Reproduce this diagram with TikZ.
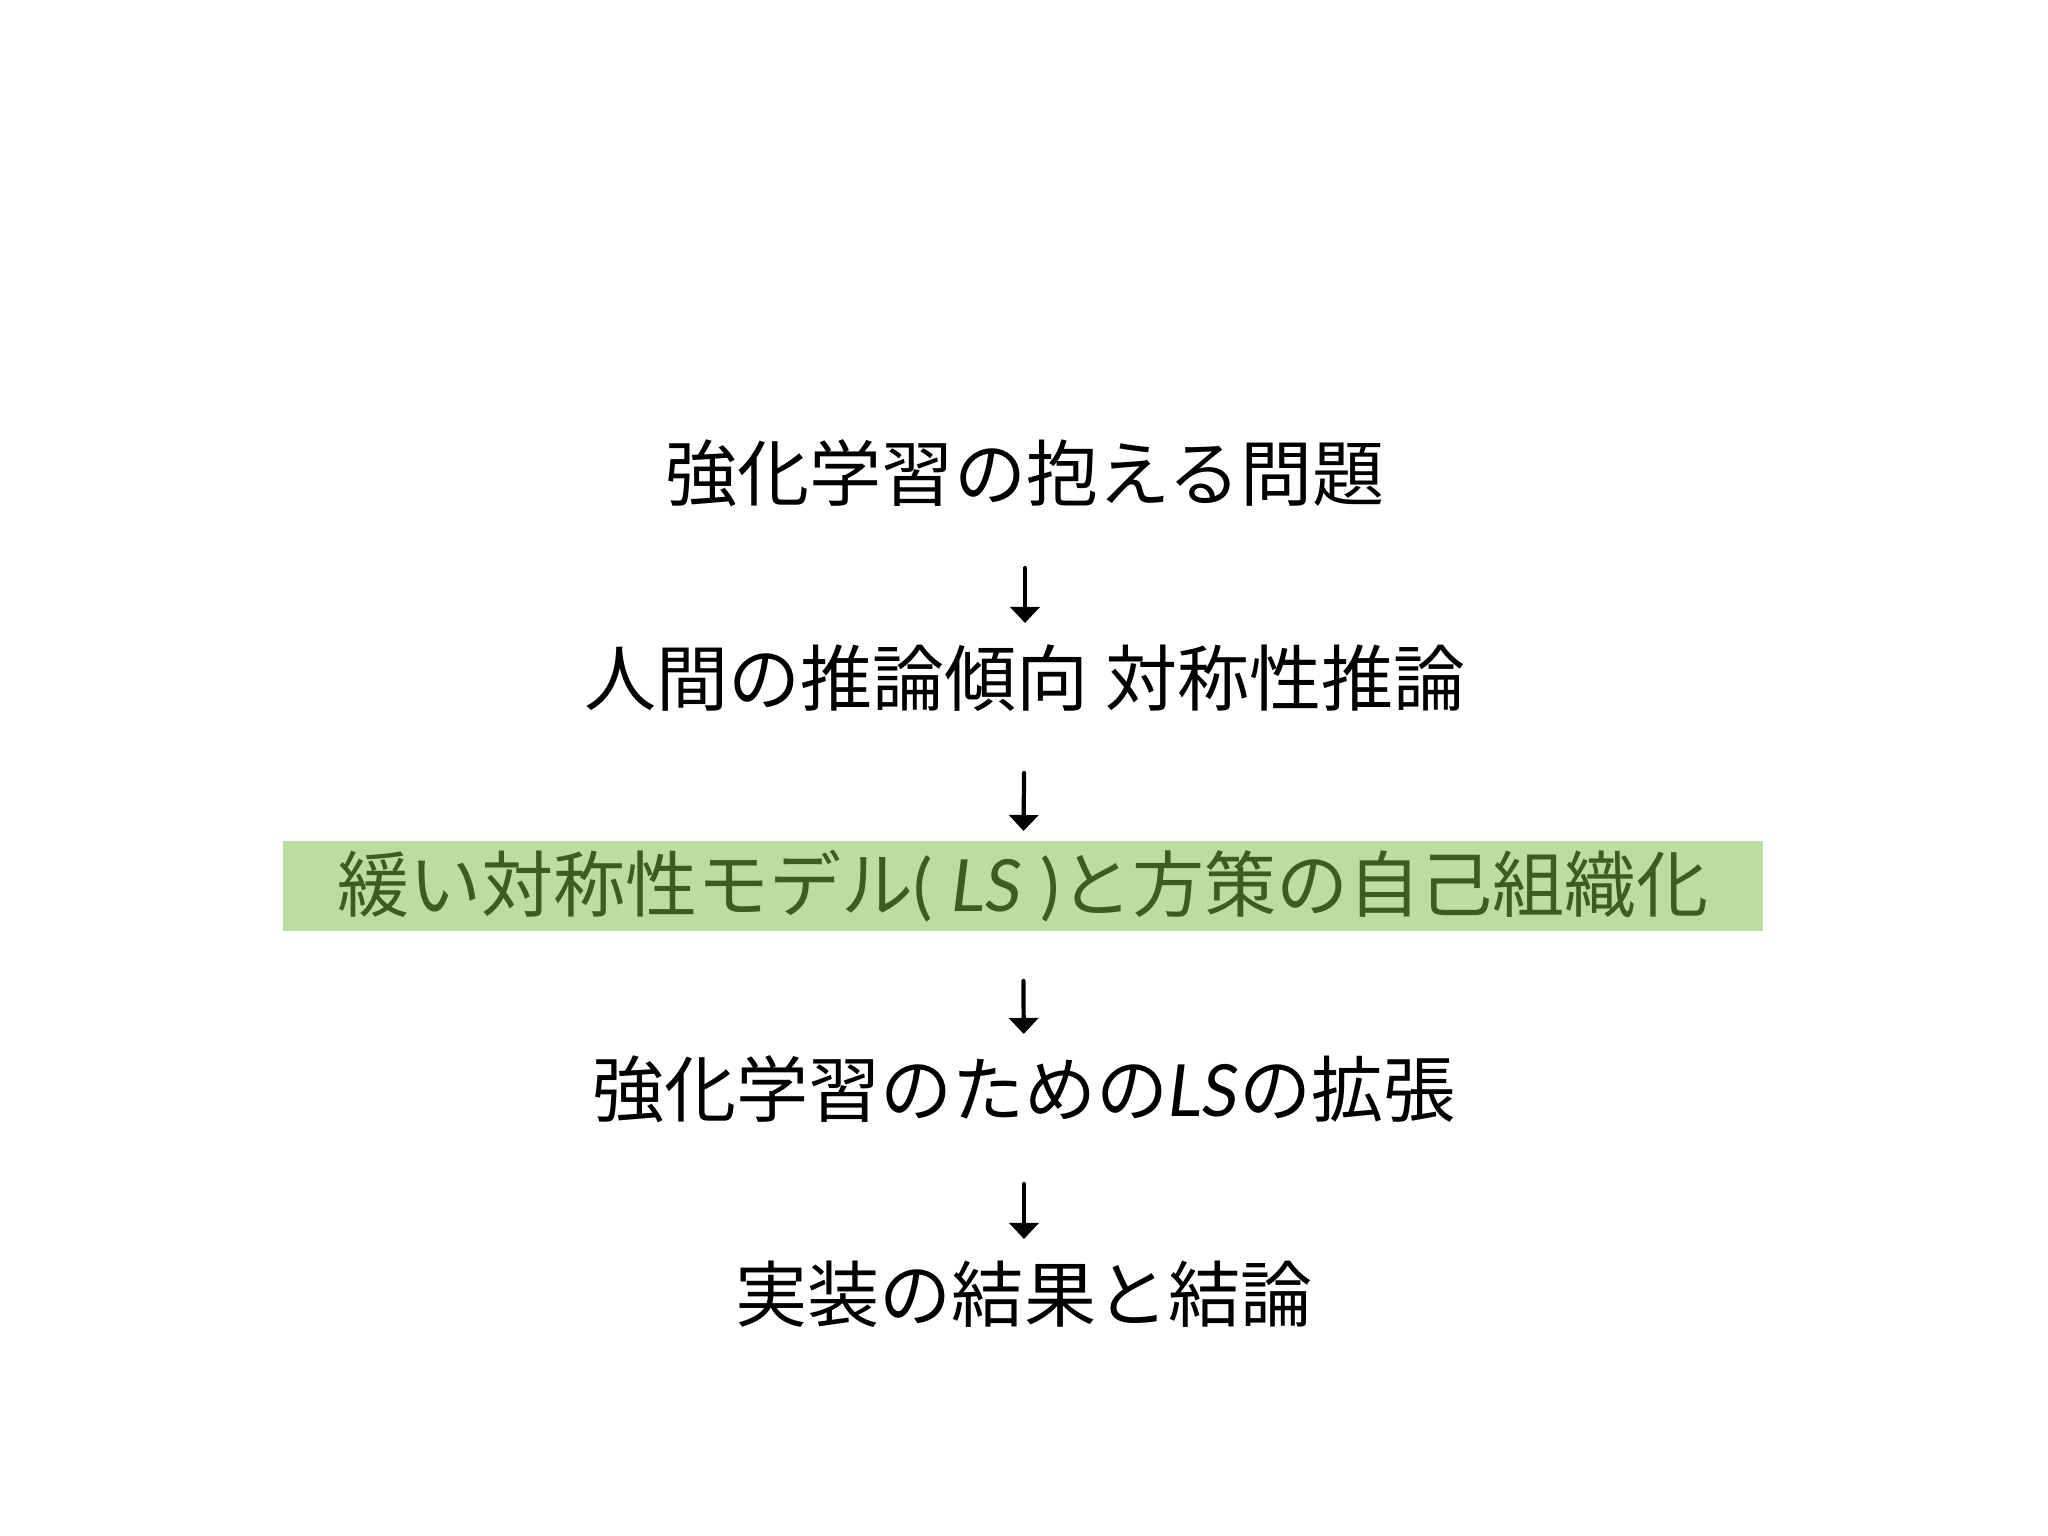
\documentclass[tikz,border=0pt]{standalone}
\usepackage{fontspec}
\setmainfont{Noto Sans CJK JP}
\newfontfamily\lsfont{Lato}
\usepackage{xcolor}
\usetikzlibrary{arrows.meta}
\definecolor{boxgreen}{RGB}{187,222,160}
\definecolor{textgreen}{RGB}{58,94,30}

\begin{document}
\begin{tikzpicture}[line cap=round,line join=round,>={Triangle[width=2.9mm,length=1.6mm]},x=1cm,y=1cm,
        slide/.style={font=\fontsize{20.5pt}{24pt}\selectfont,inner sep=0pt},
        flow/.style={->,line width=1.2pt,shorten <=0.95cm,shorten >=0.55cm}]
                \fill [white] (0,0) rectangle (20.48,15.36);
                \useasboundingbox (0,0) rectangle (20.48,15.36);
                \node [slide] (prob) at (10.25,10.63) {強化学習の抱える問題};
                \node [slide] (bias) at (10.25,8.58) {人間の推論傾向 対称性推論};
                \node [slide,fill=boxgreen,text=textgreen,minimum width=14.8cm,minimum height=0.9cm] (ls) at (10.23,6.50) {緩い対称性モデル{\lsfont( \textit{LS} )}と方策の自己組織化};
                \node [slide] (ext) at (10.24,4.47) {強化学習のための{\lsfont\textit{LS}}の拡張};
                \node [slide] (res) at (10.24,2.42) {実装の結果と結論};
                \draw [flow] (prob.center) -- (bias.center);
                \draw [flow] (bias.center) -- (ls.center);
                \draw [flow] (ls.center) -- (ext.center);
                \draw [flow] (ext.center) -- (res.center);
\end{tikzpicture}
\end{document}
